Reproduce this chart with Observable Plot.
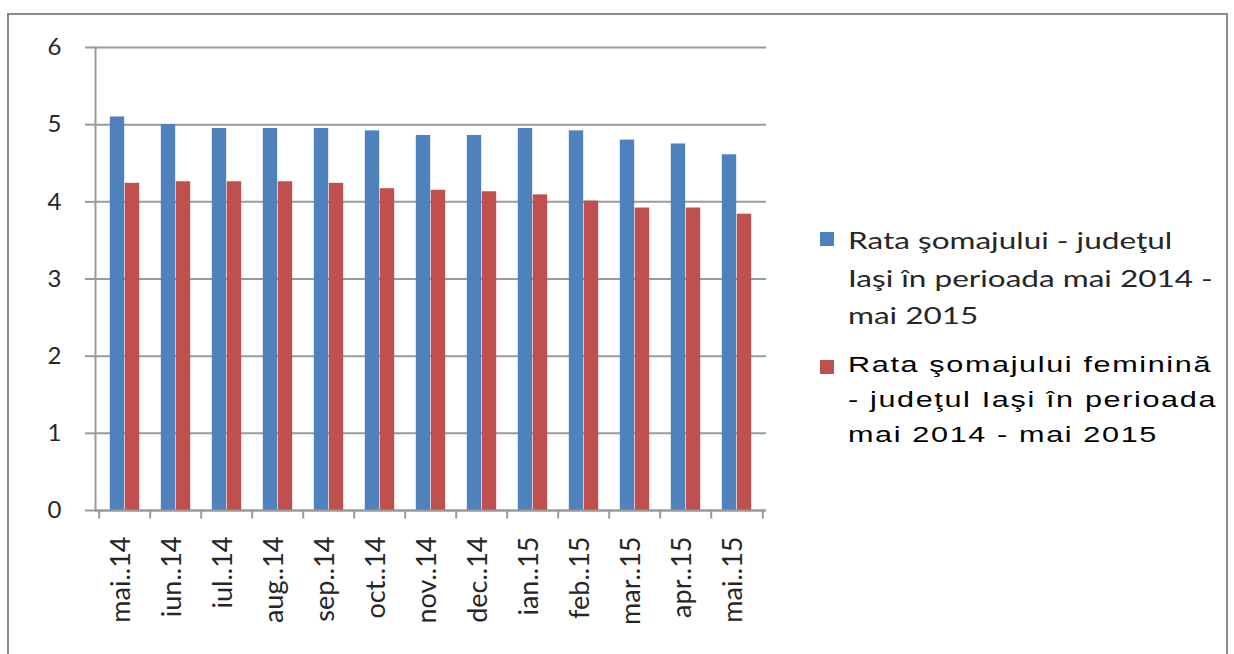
<!DOCTYPE html>
<html>
<head>
<meta charset="utf-8">
<script src="https://cdn.jsdelivr.net/npm/d3@7"></script>
<script src="https://cdn.jsdelivr.net/npm/@observablehq/plot@0.6"></script>
<style>
  html, body { margin: 0; padding: 0; background: #fff; overflow: hidden; }
  #wrap { position: relative; width: 1234px; height: 654px; }
  #frame { position: absolute; left: 7px; top: 13px; width: 1221px; height: 660px; border: 2px solid #8a8a8a; box-sizing: border-box; }
  #chart { position: absolute; left: 0; top: 0; }
  .leg { position: absolute; left: 820px; white-space: nowrap; }
  .sw { position: absolute; left: 0; width: 14px; height: 14px; }
  .lt { position: absolute; left: 28px; transform-origin: 0 0; }
  #leg1 { top: 222px; font-family: Lato, "Open Sans", sans-serif; font-size: 23px; line-height: 37.5px; color: #262626; }
  #leg1 .lt { transform: scaleX(1.37); }
  #leg2 { top: 347px; font-family: "Liberation Sans", Arial, sans-serif; font-size: 22.5px; line-height: 35px; color: #000; letter-spacing: 1.2px; }
  #leg2 .lt { transform: scaleX(1.36); }
</style>
</head>
<body>
<div id="wrap">
  <div id="chart"></div>
  <div id="frame"></div>
  <div class="leg" id="leg1"><div class="sw" style="top:10px;background:#4F81BD"></div><div class="lt" id="lt1"></div></div>
  <div class="leg" id="leg2"><div class="sw" style="top:13px;background:#C0504D"></div><div class="lt" id="lt2"></div></div>
</div>
<script>
const months = ["mai..14","iun..14","iul..14","aug..14","sep..14","oct..14","nov..14","dec..14","ian..15","feb..15","mar..15","apr..15","mai..15"];
const totalRate = [5.10,5.00,4.95,4.95,4.95,4.92,4.86,4.86,4.95,4.92,4.80,4.75,4.61];
const femaleRate = [4.24,4.26,4.26,4.26,4.24,4.17,4.15,4.13,4.09,4.01,3.92,3.92,3.84];
const seriesNames = [
  ["Rata şomajului - judeţul", "Iaşi în perioada mai 2014 -", "mai 2015"],
  ["Rata şomajului feminină", " - judeţul Iaşi în perioada", "mai 2014 - mai 2015"]
];
const yTicks = [0,1,2,3,4,5,6];
const colors = ["#4F81BD", "#C0504D"];

document.getElementById("lt1").innerHTML = seriesNames[0].join("<br>");
document.getElementById("lt2").innerHTML = seriesNames[1].join("<br>");

const data = months.map((m, i) => ({month: m, total: totalRate[i], female: femaleRate[i]}));

const W = 1234, H = 654;
const mL = 95, mR = 468, mT = 47, mB = 144;
const band = (W - mL - mR) / months.length;
const barW = 15;
const inset = (band - barW) / 2;

const chart = Plot.plot({
  width: W,
  height: H,
  marginLeft: mL,
  marginRight: mR,
  marginTop: mT,
  marginBottom: mB,
  style: {background: "transparent", fontFamily: "Lato, 'Open Sans', sans-serif"},
  x: {domain: months, padding: 0, label: null},
  y: {domain: [0, 6], label: null},
  marks: [
    Plot.gridY(yTicks, {stroke: "#9a9a9a", strokeOpacity: 1, strokeWidth: 2}),
    Plot.axisY(yTicks, {tickSize: 10, tickPadding: 24, stroke: "#9a9a9a", strokeWidth: 2, fontSize: 24, fill: "#262626", label: null, tickFormat: d => String(d)}),
    Plot.barY(data, {x: "month", y: "total", fill: colors[0], insetLeft: inset, insetRight: inset, dx: -barW / 2}),
    Plot.barY(data, {x: "month", y: "female", fill: colors[1], insetLeft: inset, insetRight: inset, dx: barW / 2}),
    Plot.ruleY([0], {stroke: "#9a9a9a", strokeWidth: 2}),
    Plot.ruleX(months, {x: d => d, y1: 0, y2: -0.11, dx: -band / 2, stroke: "#9a9a9a", strokeWidth: 2}),
    Plot.ruleX([months[months.length - 1]], {x: d => d, y1: 0, y2: -0.11, dx: band / 2, stroke: "#9a9a9a", strokeWidth: 2}),
    Plot.frame({anchor: "left", stroke: "#9a9a9a", strokeWidth: 2}),
    Plot.axisX({tickSize: 0, tickRotate: -90, tickPadding: 26, fontSize: 27, fill: "#262626", label: null, dx: -4})
  ]
});
document.getElementById("chart").appendChild(chart);
</script>
</body>
</html>
